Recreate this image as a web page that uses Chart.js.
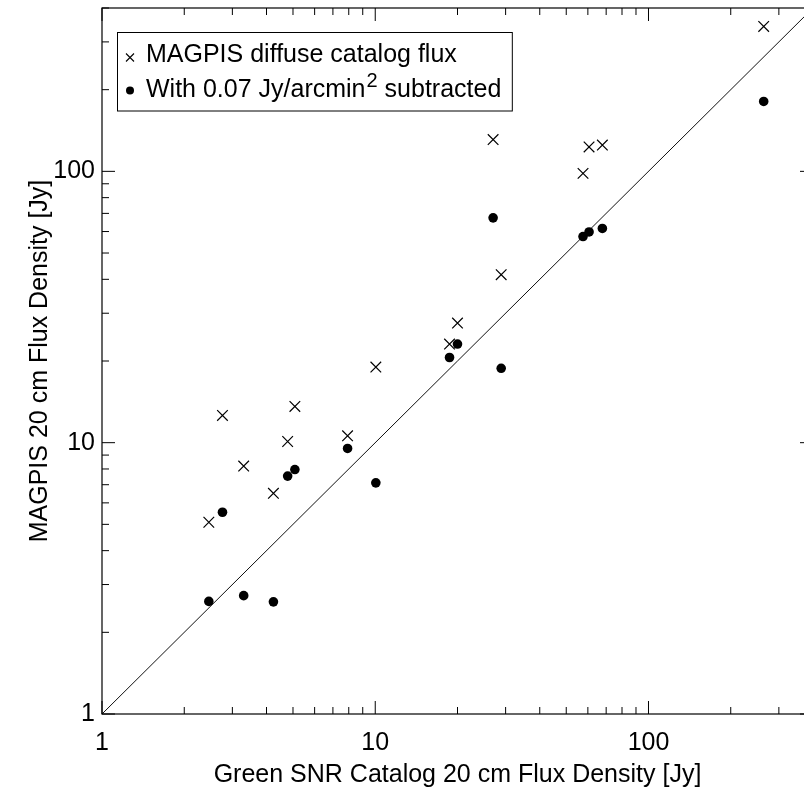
<!DOCTYPE html>
<html>
<head>
<meta charset="utf-8">
<style>
html,body{margin:0;padding:0;background:#fff;overflow:hidden}
#wrap{width:804px;height:799px;position:relative;overflow:hidden}
canvas{display:block}
</style>
<script src="https://cdn.jsdelivr.net/npm/chart.js@4/dist/chart.umd.min.js"></script>
</head>
<body>
<div id="wrap"><canvas id="c" width="822" height="799"></canvas></div>
<script>
// ---- data ----
const greenFlux      = [2.46, 2.76, 3.30, 4.24, 4.78, 5.08, 7.92, 10.05, 18.7, 20.0, 27.0, 28.9, 57.6, 60.6, 67.8, 264];
const magpisFlux     = [5.09, 12.6, 8.20, 6.51, 10.1, 13.6, 10.6, 19.0, 23.1, 27.6, 131, 41.6, 98.3, 123, 125, 342];
const subtractedFlux = [2.60, 5.54, 2.73, 2.59, 7.53, 7.96, 9.52, 7.11, 20.6, 23.1, 67.4, 18.8, 57.5, 59.8, 61.6, 181];
const diagonalX = [1, 400];
const diagonalY = [1, 400];
const axisRange = [1, 400];
const tickValues = [1,2,3,4,5,6,7,8,9,10,20,30,40,50,60,70,80,90,100,200,300,400];
const majorTicks = [1, 10, 100];
const seriesLabels = ['MAGPIS diffuse catalog flux', 'With 0.07 Jy/arcmin\u00B2 subtracted', 'y = x'];
const xTitle = 'Green SNR Catalog 20 cm Flux Density [Jy]';
const yTitle = 'MAGPIS 20 cm Flux Density [Jy]';

const FONT = '"Liberation Sans", Arial, Helvetica, sans-serif';
Chart.defaults.font.family = FONT;
Chart.defaults.color = '#000';

const toPoints = (xs, ys) => xs.map((x, i) => ({x: x, y: ys[i]}));

// inward tick marks + frame, IDL style
const framePlugin = {
  id: 'frame',
  afterDatasetsDraw(chart) {
    const {ctx, chartArea: a, scales} = chart;
    const xs = scales.x, ys = scales.y;
    ctx.save();
    ctx.strokeStyle = '#000';
    ctx.lineWidth = 1.2;
    ctx.strokeRect(a.left, a.top, a.right - a.left, a.bottom - a.top);
    ctx.lineWidth = 1;
    ctx.beginPath();
    tickValues.forEach(v => {
      const len = majorTicks.includes(v) ? 13 : 7;
      const px = xs.getPixelForValue(v);
      ctx.moveTo(px, a.bottom); ctx.lineTo(px, a.bottom - len);
      ctx.moveTo(px, a.top); ctx.lineTo(px, a.top + len);
      const py = ys.getPixelForValue(v);
      ctx.moveTo(a.left, py); ctx.lineTo(a.left + len, py);
      ctx.moveTo(a.right, py); ctx.lineTo(a.right - len, py);
    });
    ctx.stroke();
    ctx.restore();
  }
};

// boxed legend with superscript
const legendPlugin = {
  id: 'boxLegend',
  afterDraw(chart) {
    const {ctx, chartArea: a} = chart;
    const ds = chart.data.datasets;
    const boxL = a.left + 15.5, boxT = a.top + 24.5;
    const textX = boxL + 28.5;
    const baselines = [boxT + 29.5, boxT + 64];
    const big = '25px ' + FONT, small = '20px ' + FONT;
    ctx.save();
    ctx.fillStyle = '#000';
    ctx.textBaseline = 'alphabetic';
    let maxW = 0;
    [0, 1].forEach(i => {
      const parts = ds[i].label.split('\u00B2');
      let x = textX;
      parts.forEach((p, k) => {
        ctx.font = big;
        ctx.fillText(p, x, baselines[i]);
        x += ctx.measureText(p).width;
        if (k < parts.length - 1) {
          ctx.font = small;
          ctx.fillText('2', x + 1, baselines[i] - 10);
          x += ctx.measureText('2').width + 1;
        }
      });
      maxW = Math.max(maxW, x - textX);
    });
    const boxR = textX + maxW + 11;
    const boxB = boxT + 78.5;
    ctx.strokeStyle = '#000';
    ctx.lineWidth = 1;
    ctx.strokeRect(boxL, boxT, boxR - boxL, boxB - boxT);
    // markers
    const mx = boxL + 12.5;
    ctx.lineWidth = 1.1;
    ctx.beginPath();
    const cy = boxT + 25, h = 4;
    ctx.moveTo(mx - h, cy - h); ctx.lineTo(mx + h, cy + h);
    ctx.moveTo(mx + h, cy - h); ctx.lineTo(mx - h, cy + h);
    ctx.stroke();
    ctx.beginPath();
    ctx.arc(mx, boxT + 58, 4, 0, Math.PI * 2);
    ctx.fill();
    ctx.restore();
  }
};

const logAxis = (title, isX) => ({
  type: 'logarithmic',
  position: isX ? 'bottom' : 'left',
  min: axisRange[0],
  max: axisRange[1],
  grid: { display: false, drawTicks: false },
  border: { display: false },
  afterBuildTicks: s => { s.ticks = tickValues.map(v => ({value: v})); },
  afterFit: s => {
    if (isX) s.height = 85; else s.width = 102;
    s.paddingLeft = 0; s.paddingRight = 0; s.paddingTop = 0; s.paddingBottom = 0;
  },
  ticks: {
    autoSkip: false,
    maxRotation: 0,
    minRotation: 0,
    padding: isX ? 14 : 7,
    font: { size: 25 },
    color: '#000',
    callback: v => majorTicks.includes(v) ? String(v) : ''
  },
  title: {
    display: true,
    text: title,
    color: '#000',
    font: { size: 25 },
    padding: isX ? { top: 0, bottom: 9 } : { top: 25, bottom: 0 }
  }
});

new Chart(document.getElementById('c'), {
  type: 'scatter',
  data: {
    datasets: [
      {
        label: seriesLabels[0],
        data: toPoints(greenFlux, magpisFlux),
        pointStyle: 'crossRot',
        pointRadius: 7.5,
        pointBorderWidth: 1.2,
        borderColor: '#000',
        backgroundColor: '#000'
      },
      {
        label: seriesLabels[1],
        data: toPoints(greenFlux, subtractedFlux),
        pointStyle: 'circle',
        pointRadius: 4.8,
        pointBorderWidth: 0,
        borderColor: '#000',
        backgroundColor: '#000'
      },
      {
        label: seriesLabels[2],
        data: toPoints(diagonalX, diagonalY),
        showLine: true,
        pointRadius: 0,
        borderColor: '#111',
        borderWidth: 1
      }
    ]
  },
  options: {
    responsive: false,
    animation: false,
    devicePixelRatio: 1,
    layout: { autoPadding: false, padding: { top: 8, left: 0, right: 9, bottom: 0 } },
    plugins: { legend: { display: false }, tooltip: { enabled: false } },
    scales: { x: logAxis(xTitle, true), y: logAxis(yTitle, false) }
  },
  plugins: [framePlugin, legendPlugin]
});
</script>
</body>
</html>
